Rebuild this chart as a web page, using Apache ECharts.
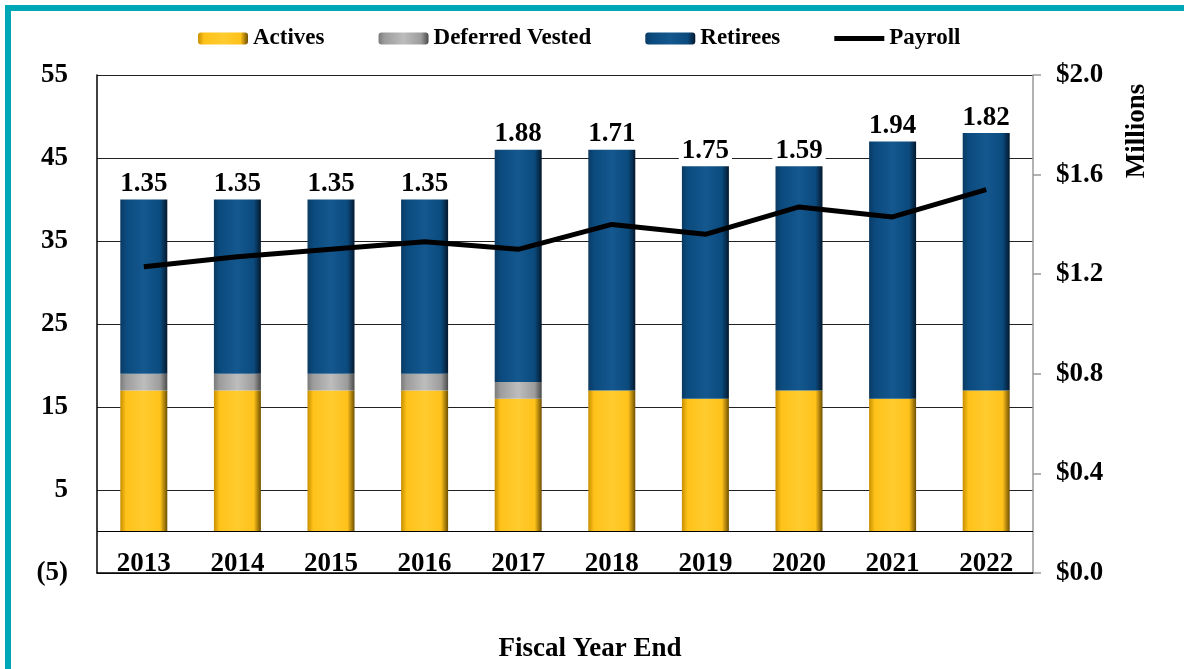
<!DOCTYPE html>
<html>
<head>
<meta charset="utf-8">
<script src="https://cdn.jsdelivr.net/npm/echarts@6/dist/echarts.min.js"></script>
<style>
  html, body { margin: 0; padding: 0; background: #fff; }
  #grf { width: 1184px; height: 669px; }
</style>
</head>
<body>
<div id="grf"></div>
<script>
// Anos fiscais
var anos = ['2013', '2014', '2015', '2016', '2017', '2018', '2019', '2020', '2021', '2022'];

// Contagens por grupo
var ativos = [17, 17, 17, 17, 16, 17, 16, 17, 16, 17];
var diferidos = [2, 2, 2, 2, 2, 0, 0, 0, 0, 0];
var aposentados = [21, 21, 21, 21, 28, 29, 28, 27, 31, 31];

// Rotulos acima das barras
var razoes = ['1.35', '1.35', '1.35', '1.35', '1.88', '1.71', '1.75', '1.59', '1.94', '1.82'];

// Folha de pagamento (milhoes)
var folha = [1.23, 1.27, 1.30, 1.33, 1.30, 1.40, 1.36, 1.47, 1.43, 1.54];

var fonte = '"Liberation Serif", "Times New Roman", serif';

function bisel(escuro, meio, claro, sombra) {
	return {
		type: 'linear', x: 0, y: 0, x2: 1, y2: 0,
		colorStops: [
			{ offset: 0, color: escuro },
			{ offset: 0.12, color: meio },
			{ offset: 0.5, color: claro },
			{ offset: 0.85, color: meio },
			{ offset: 1, color: sombra }
		]
	};
}

var grafico = echarts.init(document.getElementById('grf'));

var opcoes = {
	animation: false,
	textStyle: { fontFamily: fonte },
	graphic: [
		{
			type: 'rect',
			shape: { x: 8, y: 8, width: 1300, height: 800 },
			style: { fill: 'none', stroke: '#00A8B5', lineWidth: 6 },
			z: 100
		},
		{
			type: 'text',
			x: 1137, y: 131,
			rotation: Math.PI / 2,
			style: {
				text: 'Millions',
				fontFamily: fonte, fontSize: 27, fontWeight: 'bold',
				fill: '#000', align: 'center', verticalAlign: 'middle'
			}
		},
		{
			type: 'text',
			x: 590, y: 649,
			style: {
				text: 'Fiscal Year End',
				fontFamily: fonte, fontSize: 27, fontWeight: 'bold',
				fill: '#000', align: 'center', verticalAlign: 'middle'
			}
		}
	],
	legend: {
		top: 22,
		left: 193,
		itemWidth: 50,
		itemHeight: 12,
		itemGap: 54,
		textStyle: { fontFamily: fonte, fontSize: 23, fontWeight: 'bold', color: '#000' },
		data: [
			'Actives',
			'Deferred Vested',
			'Retirees',
			{ name: 'Payroll', icon: 'path://M0,0L50,0L50,5L0,5Z' }
		]
	},
	grid: {
		left: 97,
		right: 151,
		top: 75,
		bottom: 96
	},
	xAxis: {
		type: 'category',
		data: anos,
		axisLine: { onZero: false, lineStyle: { color: '#000', width: 1.5 } },
		axisTick: { show: false },
		axisLabel: {
			inside: true,
			margin: -5,
			fontFamily: fonte, fontSize: 27, fontWeight: 'bold', color: '#000'
		}
	},
	yAxis: [
		{
			type: 'value',
			min: -5,
			max: 55,
			interval: 10,
			axisLine: { show: true, lineStyle: { color: '#000', width: 1.5 } },
			axisTick: { show: false },
			splitLine: { lineStyle: { color: '#222', width: 1 } },
			axisLabel: {
				margin: 29,
				fontFamily: fonte, fontSize: 27, fontWeight: 'bold', color: '#000',
				formatter: function (v) { return v < 0 ? '(' + (-v) + ')' : v; }
			}
		},
		{
			type: 'value',
			min: 0,
			max: 2,
			interval: 0.4,
			position: 'right',
			axisLine: { show: true, lineStyle: { color: '#999', width: 1.5 } },
			axisTick: { show: true, length: 8, lineStyle: { color: '#999', width: 1.5 } },
			splitLine: { show: false },
			axisLabel: {
				margin: 23,
				fontFamily: fonte, fontSize: 27, fontWeight: 'bold', color: '#000',
				formatter: function (v) { return '$' + v.toFixed(1); }
			}
		}
	],
	series: [
		{
			name: 'Actives',
			type: 'bar',
			stack: 'total',
			barWidth: 47,
			data: ativos,
			itemStyle: { color: bisel('#C78F00', '#FFC21A', '#FFCB2E', '#6E5000') },
			markLine: {
				silent: true,
				symbol: 'none',
				label: { show: false },
				lineStyle: { color: '#000', width: 1, type: 'solid' },
				data: [{ yAxis: 0 }]
			}
		},
		{
			name: 'Deferred Vested',
			type: 'bar',
			stack: 'total',
			barWidth: 47,
			data: diferidos,
			itemStyle: { color: bisel('#7A7A7A', '#9C9C9C', '#BDBDBD', '#4A4A4A') }
		},
		{
			name: 'Retirees',
			type: 'bar',
			stack: 'total',
			barWidth: 47,
			data: aposentados,
			itemStyle: { color: bisel('#0A3A63', '#0B4A7D', '#14588F', '#04182C') },
			label: {
				show: true,
				position: 'top',
				distance: 2,
				backgroundColor: '#fff',
				padding: [0, 3],
				fontFamily: fonte, fontSize: 27, fontWeight: 'bold', color: '#000',
				formatter: function (p) { return razoes[p.dataIndex]; }
			}
		},
		{
			name: 'Payroll',
			type: 'line',
			yAxisIndex: 1,
			data: folha,
			symbol: 'none',
			lineStyle: { color: '#000', width: 5 },
			itemStyle: { color: '#000' },
			z: 10
		}
	]
};

grafico.setOption(opcoes);
</script>
</body>
</html>
